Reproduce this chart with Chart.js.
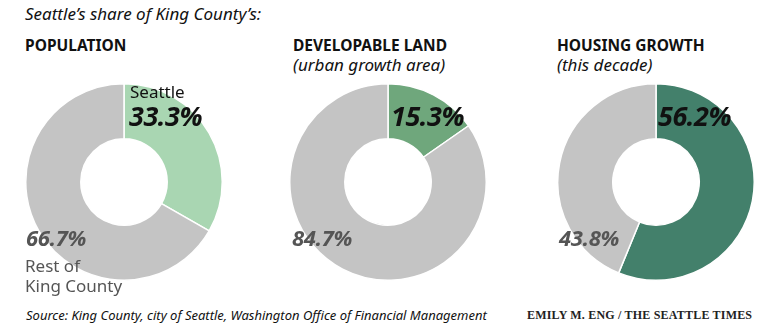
<!DOCTYPE html>
<html>
<head>
<meta charset="utf-8">
<script src="https://cdn.jsdelivr.net/npm/chart.js@4"></script>
<style>
  body { margin: 0; background: #fff; width: 780px; height: 329px; position: relative; overflow: hidden; font-family: "Noto Sans", sans-serif; color: #111; }
  .abs { position: absolute; white-space: nowrap; }
  .kicker { left: 25px; top: 2px; font-size: 17px; font-style: italic; }
  .head { font-size: 15.5px; font-weight: 700; }
  .sub { font-size: 17px; font-style: italic; }
  .pct { font-size: 27px; font-weight: 700; font-style: italic; letter-spacing: -0.5px; }
  .gpct { font-size: 22px; font-weight: 700; font-style: italic; color: #555; letter-spacing: -0.3px; }
  .lbl { font-size: 17px; }
  .rest { font-size: 17px; color: #555; line-height: 20px; }
  .src { left: 26px; top: 306px; font-size: 13px; font-style: italic; }
  .credit { left: 527px; top: 308px; font-size: 12px; font-weight: 700; font-family: "Liberation Serif", serif; letter-spacing: 0.2px; color: #222; }
  canvas { position: absolute; }
</style>
</head>
<body>
<div class="abs kicker">Seattle’s share of King County’s:</div>

<div class="abs head" style="left:25px;top:34px">POPULATION</div>
<div class="abs head" style="left:293px;top:34px">DEVELOPABLE LAND</div>
<div class="abs sub" style="left:293px;top:53px">(urban growth area)</div>
<div class="abs head" style="left:557px;top:34px">HOUSING GROWTH</div>
<div class="abs sub" style="left:557px;top:53px">(this decade)</div>

<canvas id="c0" width="200" height="200" style="left:24px;top:82px"></canvas>
<canvas id="c1" width="200" height="200" style="left:288px;top:82px"></canvas>
<canvas id="c2" width="200" height="200" style="left:556px;top:82px"></canvas>

<div class="abs lbl" style="left:130px;top:80px">Seattle</div>
<div class="abs pct" style="left:129px;top:97px">33.3%</div>
<div class="abs gpct" style="left:26px;top:222px">66.7%</div>
<div class="abs rest" style="left:25px;top:256px">Rest of<br>King County</div>

<div class="abs pct" style="left:391px;top:97px">15.3%</div>
<div class="abs gpct" style="left:292px;top:222px">84.7%</div>

<div class="abs pct" style="left:658px;top:97px">56.2%</div>
<div class="abs gpct" style="left:559px;top:222px">43.8%</div>

<div class="abs src">Source: King County, city of Seattle, Washington Office of Financial Management</div>
<div class="abs credit">EMILY M. ENG / THE SEATTLE TIMES</div>

<script>
const categories = ['Seattle', 'Rest of King County'];
const population = [33.3, 66.7];
const developableLand = [15.3, 84.7];
const housingGrowth = [56.2, 43.8];

const seattleColors = ['#a9d6b2', '#6fa77c', '#43806b'];
const restColor = '#c4c4c4';

function drawDonut(id, values, seattleColor) {
    const ctx = document.getElementById(id).getContext('2d');
    new Chart(ctx, {
        type: 'doughnut',
        data: {
            labels: categories,
            datasets: [{
                data: values,
                backgroundColor: [seattleColor, restColor],
                borderColor: '#ffffff',
                borderWidth: 1.5
            }]
        },
        options: {
            responsive: false,
            animation: false,
            cutout: '44%',
            layout: { padding: 1 },
            plugins: {
                legend: { display: false },
                tooltip: { enabled: false }
            }
        }
    });
}

drawDonut('c0', population, seattleColors[0]);
drawDonut('c1', developableLand, seattleColors[1]);
drawDonut('c2', housingGrowth, seattleColors[2]);
</script>
</body>
</html>
